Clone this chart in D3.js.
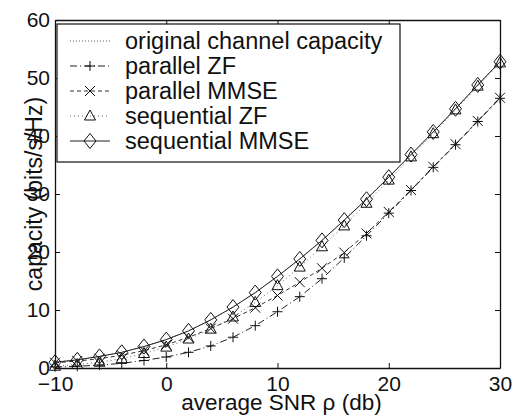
<!DOCTYPE html>
<html>
<head>
<meta charset="utf-8">
<script src="https://cdn.jsdelivr.net/npm/d3@7"></script>
<style>
  html, body { margin: 0; padding: 0; background: #fff; }
  svg { display: block; }
  text { font-family: "Liberation Sans", Arial, Helvetica, sans-serif; fill: #111; }
</style>
</head>
<body>
<svg id="chart" width="519" height="417"></svg>
<script>
// ---- data ----
const snr = [-10, -8, -6, -4, -2, 0, 2, 4, 6, 8, 10, 12, 14, 16, 18, 20, 22, 24, 26, 28, 30];
const originalCapacity = [1.0, 1.4, 2.0, 2.7, 3.7, 4.9, 6.4, 8.3, 10.5, 13.0, 15.8, 18.8, 22.0, 25.5, 29.1, 32.9, 36.8, 40.7, 44.7, 48.8, 52.8];
const parallelZF = [0.2, 0.3, 0.5, 0.8, 1.3, 1.9, 2.7, 3.8, 5.3, 7.3, 9.7, 12.3, 15.4, 19.0, 22.8, 26.7, 30.6, 34.6, 38.5, 42.5, 46.5];
const parallelMMSE = [0.9, 1.2, 1.6, 2.2, 3.0, 4.0, 5.3, 6.8, 8.5, 10.4, 12.5, 14.8, 17.2, 19.9, 23.2, 26.9, 30.7, 34.7, 38.6, 42.6, 46.6];
const sequentialZF = [0.3, 0.6, 1.0, 1.6, 2.5, 3.6, 5.0, 6.7, 8.8, 11.3, 14.2, 17.4, 20.9, 24.5, 28.4, 32.4, 36.4, 40.4, 44.5, 48.6, 52.6];
const sequentialMMSE = [1.0, 1.4, 2.0, 2.7, 3.7, 4.9, 6.4, 8.3, 10.5, 13.0, 15.8, 18.8, 22.0, 25.5, 29.1, 32.9, 36.8, 40.7, 44.7, 48.8, 52.8];
const seriesNames = ["original channel capacity", "parallel ZF", "parallel MMSE", "sequential ZF", "sequential MMSE"];
const xTicks = [-10, 0, 10, 20, 30];
const yTicks = [0, 10, 20, 30, 40, 50, 60];
const xLabel = "average SNR \u03c1 (db)";
const yLabel = "capacity (bits/s/Hz)";

// ---- styles ----
const styles = [
  { dash: "1,2", marker: null, color: "#555" },
  { dash: "7,3,1,3", marker: "plus", color: "#222" },
  { dash: "4,3", marker: "cross", color: "#333" },
  { dash: "1,3", marker: "triangle", color: "#666" },
  { dash: null, marker: "diamond", color: "#222" }
];
const seriesValues = [originalCapacity, parallelZF, parallelMMSE, sequentialZF, sequentialMMSE];

const svg = d3.select("#chart");
const x = d3.scaleLinear().domain([-10, 30]).range([55, 500]);
const y = d3.scaleLinear().domain([0, 60]).range([368, 20]);
const FS = 21;

function markerPath(type) {
  switch (type) {
    case "plus": return "M-5,0L5,0M0,-5L0,5";
    case "cross": return "M-5,-5L5,5M-5,5L5,-5";
    case "triangle": return "M0,-6L5.5,4L-5.5,4Z";
    case "diamond": return "M0,-7.5L6,0L0,7.5L-6,0Z";
  }
  return "";
}

// axes
const gx = svg.append("g").attr("transform", `translate(0,${y(0)})`)
  .call(d3.axisBottom(x).tickValues(xTicks).tickSize(-5).tickSizeOuter(0).tickPadding(8));
const gy = svg.append("g").attr("transform", `translate(${x(-10)},0)`)
  .call(d3.axisLeft(y).tickValues(yTicks).tickSize(-5).tickSizeOuter(0).tickPadding(5));
const gt = svg.append("g").attr("transform", `translate(0,${y(60)})`)
  .call(d3.axisTop(x).tickValues(xTicks).tickSize(-5).tickSizeOuter(0).tickFormat(""));
const gr = svg.append("g").attr("transform", `translate(${x(30)},0)`)
  .call(d3.axisRight(y).tickValues(yTicks).tickSize(-5).tickSizeOuter(0).tickFormat(""));
[gx, gy, gt, gr].forEach(g => {
  g.selectAll("path.domain").attr("stroke", "#111").attr("stroke-width", 1.3);
  g.selectAll(".tick line").attr("stroke", "#111").attr("stroke-width", 1);
  g.selectAll("text").attr("font-size", FS).attr("fill", "#111")
    .attr("font-family", '"Liberation Sans", Arial, sans-serif');
});

// axis labels
svg.append("text").attr("x", (x(-10) + x(30)) / 2 + 4).attr("y", 410)
  .attr("text-anchor", "middle").attr("font-size", 22.5).text(xLabel);
svg.append("text").attr("transform", `translate(42,${(y(0) + y(60)) / 2}) rotate(-90)`)
  .attr("text-anchor", "middle").attr("font-size", 23).text(yLabel);

// series
const line = d3.line().x((d, i) => x(snr[i])).y(d => y(d));
seriesValues.forEach((vals, k) => {
  const st = styles[k];
  svg.append("path").datum(vals).attr("d", line)
    .attr("fill", "none").attr("stroke", st.color).attr("stroke-width", 1)
    .attr("stroke-dasharray", st.dash);
  if (st.marker) {
    svg.append("g").selectAll("path").data(vals).join("path")
      .attr("transform", (d, i) => `translate(${x(snr[i])},${y(d)})`)
      .attr("d", markerPath(st.marker))
      .attr("fill", "none").attr("stroke", "#111").attr("stroke-width", 1);
  }
});

// legend
const lg = svg.append("g");
lg.append("rect").attr("x", 57).attr("y", 24).attr("width", 343).attr("height", 138)
  .attr("fill", "#fff").attr("stroke", "#111").attr("stroke-width", 1.2);
seriesNames.forEach((name, k) => {
  const st = styles[k];
  const cy = 41 + k * 25;
  lg.append("line").attr("x1", 70).attr("x2", 110).attr("y1", cy).attr("y2", cy)
    .attr("stroke", st.color).attr("stroke-width", 1).attr("stroke-dasharray", st.dash);
  if (st.marker) {
    lg.append("path").attr("transform", `translate(90,${cy})`).attr("d", markerPath(st.marker))
      .attr("fill", "none").attr("stroke", "#111").attr("stroke-width", 1);
  }
  lg.append("text").attr("x", 125).attr("y", cy + 7.5).attr("font-size", 23.5).text(name);
});
</script>
</body>
</html>
